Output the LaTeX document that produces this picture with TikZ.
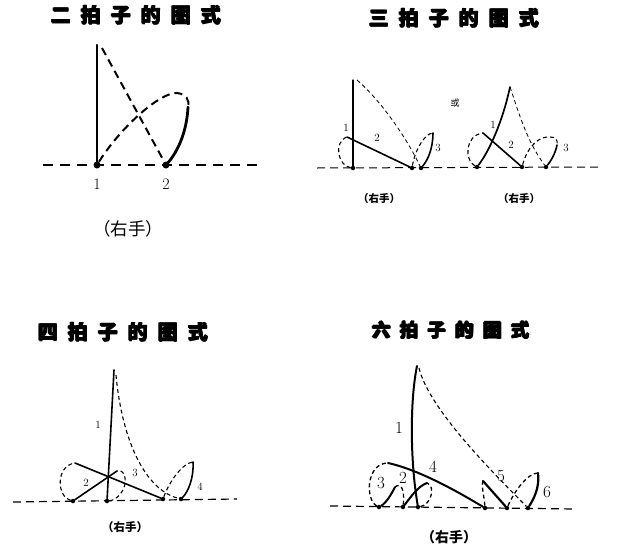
\documentclass[tikz,border=0pt]{standalone}
\usepackage{fontspec}
\newfontfamily\cjk{Noto Sans CJK SC}
\usetikzlibrary{positioning}
\tikzset{
  beat/.style={circle, fill, inner sep=0pt, minimum size=#1},
  beat/.default=4.5pt,
  groundline/.style={dash pattern=on 8pt off 5pt, line width=1pt},
  hit/.style={line width=1.6pt, line cap=round},
  swing/.style={dash pattern=on 4pt off 3pt, line width=1.1pt},
  guide/.style={dash pattern=on 4pt off 3pt, line width=0.8pt},
  num/.style={font=\fontsize{11}{11}\selectfont, inner sep=0pt},
  hand/.style={font=\cjk\bfseries\fontsize{11}{11}\selectfont, inner sep=0pt},
  ttl/.style={font=\cjk\bfseries\fontsize{20}{20}\selectfont, inner sep=0pt}
}
\newcommand{\gp}{\hspace{0.5em}}
% heavy title: the bold text laid over itself a little shifted
\newcommand{\heavytitle}[4][]{%
  \foreach \dx/\dy in {-0.7/0, 0.7/0, 0/-0.6, 0/0.6}
    \node[ttl, #1, xshift=\dx pt, yshift=\dy pt] at (#3) {#4};
  \node[ttl, #1] (#2) at (#3) {#4};}

\begin{document}
\begin{tikzpicture}[x=1pt, y=-1pt]
  \useasboundingbox (0,0) rectangle (629,554);

  % two beats
  \heavytitle{ttwo}{136,15}{二\gp 拍\gp 子\gp 的\gp 图\gp 式}
  \coordinate (g1l) at (43,165);
  \coordinate (g1r) at (257,165);
  \draw[groundline, line width=2pt, dash pattern=on 10pt off 7pt] (g1l) -- (g1r);
  \node[beat=7pt] (a1) at (97,165) {};
  \node[beat=7pt] (a2) at (166,165) {};
  \coordinate (atop) at (97,45);
  \coordinate (aret) at (102,48);
  \draw[hit, line width=2.2pt] (a1.center) -- (atop);
  \draw[swing, line width=2pt, dash pattern=on 8pt off 5pt] (aret) -- (a2);
  \draw[swing, line width=2pt, dash pattern=on 8pt off 5pt] (a1) .. controls (120,128) and (160,92) .. (177,93)
    .. controls (186,94) and (190,100) .. (188,107) coordinate (aturn);
  \draw[hit, line width=2.8pt] (aturn) .. controls (187,128) and (180,150) .. (a2.center);
  \node[num, font=\fontsize{16}{16}\selectfont] (na1) at (97,184) {1};
  \node[num, font=\fontsize{16}{16}\selectfont] (na2) at (166,184) {2};
  \node[hand, font=\cjk\fontsize{17.5}{17.5}\selectfont] (ha) at (128,229) {（右手）};

  % three beats
  \heavytitle{tthree}{454,18}{三\gp 拍\gp 子\gp 的\gp 图\gp 式}
  \coordinate (g2l) at (317,168);
  \coordinate (g2r) at (598,167);
  \draw[groundline] (g2l) -- (g2r);
  \node[beat] (b1) at (353,168) {};
  \node[beat] (b2) at (412,168) {};
  \node[beat] (b3) at (421,168) {};
  \coordinate (btop) at (353,80);
  \coordinate (bret) at (357,80);
  \draw[hit, line width=1.3pt] (b1.center) -- (btop);
  \draw[guide] (bret) .. controls (380,100) and (405,135) .. (b3);
  \draw[swing] (b1) .. controls (338,166) and (333,142) .. (347,137) coordinate (bturn);
  \draw[hit] (bturn) -- (b2);
  \draw[swing] (b2) .. controls (415,150) and (425,133) .. (433,133) coordinate (bloop);
  \draw[hit] (bloop) .. controls (433,148) and (428,160) .. (b3);
  \node[num] (nb1) at (346,128) {1};
  \node[num] (nb2) at (377,138) {2};
  \node[num] (nb3) at (438,148) {3};
  \node[font=\cjk\fontsize{9}{9}\selectfont, inner sep=0pt] (alt) at (455,103) {或};
  \node[beat] (c1) at (477,167) {};
  \node[beat] (c2) at (522,167) {};
  \node[beat] (c3) at (546,167) {};
  \coordinate (ctop) at (510,87);
  \draw[hit, line width=1.7pt] (c1) .. controls (490,150) and (503,120) .. (ctop);
  \draw[guide] (ctop) .. controls (518,110) and (526,140) .. (c3);
  \draw[swing] (c1) .. controls (464,160) and (465,135) .. (483,133) coordinate (cturn);
  \draw[hit] (cturn) -- (c2);
  \draw[swing] (c2) .. controls (528,145) and (540,136) .. (550,137)
    .. controls (556,137) and (558,140) .. (557,145) coordinate (cloop);
  \draw[hit] (cloop) .. controls (555,155) and (550,162) .. (c3);
  \node[num] (nc1) at (493,125) {1};
  \node[num] (nc2) at (511,145) {2};
  \node[num] (nc3) at (566,148) {3};
  \node[hand, font=\cjk\bfseries\fontsize{10.5}{10.5}\selectfont] (hb) at (379,199) {（右手）};
  \node[hand, font=\cjk\bfseries\fontsize{10.5}{10.5}\selectfont] (hc) at (519,199) {（右手）};

  % four beats
  \heavytitle{tfour}{123,332}{四\gp 拍\gp 子\gp 的\gp 图\gp 式}
  \coordinate (g3l) at (13,502);
  \coordinate (g3r) at (237,499);
  \draw[groundline, line width=1.2pt] (g3l) -- (g3r);
  \node[beat] (d1) at (107,501) {};
  \node[beat] (d2) at (73,501) {};
  \node[beat] (d3) at (163,499) {};
  \node[beat] (d4) at (181,499) {};
  \coordinate (dtop) at (114,370);
  \coordinate (dret) at (116,375);
  \draw[hit] (d1.center) -- (dtop);
  \draw[swing] (dret) .. controls (122,440) and (145,490) .. (d4);
  \draw[swing] (d1) .. controls (118,500) and (127,488) .. (125,478)
    .. controls (124,471) and (120,470) .. (117,471) coordinate (dturn);
  \draw[hit] (dturn) -- (d2);
  \draw[swing] (d2) .. controls (57,497) and (55,466) .. (75,463) coordinate (dloop);
  \draw[hit] (dloop) -- (d3);
  \draw[swing] (d3) .. controls (170,480) and (183,463) .. (193,462) coordinate (dhook);
  \draw[hit] (dhook) .. controls (194,478) and (188,492) .. (d4);
  \node[num] (nd1) at (98,425) {1};
  \node[num] (nd2) at (86,483) {2};
  \node[num] (nd3) at (135,473) {3};
  \node[num] (nd4) at (200,487) {4};
  \node[hand, font=\cjk\bfseries\fontsize{11.5}{11.5}\selectfont] (hd) at (125,527) {（右手）};

  % six beats
  \heavytitle[font=\cjk\bfseries\fontsize{18.5}{18.5}\selectfont]{tsix}{451,330}{六\gp 拍\gp 子\gp 的\gp 图\gp 式}
  \coordinate (g4l) at (330,506);
  \coordinate (g4r) at (575,509);
  \draw[groundline, line width=1.2pt] (g4l) -- (g4r);
  \node[beat] (e1) at (418,507) {};
  \node[beat] (e2) at (403,507) {};
  \node[beat] (e3) at (379,507) {};
  \node[beat] (e4) at (485,508) {};
  \node[beat] (e5) at (507,508) {};
  \node[beat] (e6) at (528,508) {};
  \coordinate (etop) at (417,366);
  \coordinate (eret) at (419,368);
  \draw[hit, line width=2pt] (e1) .. controls (410,460) and (410,400) .. (etop);
  \draw[guide, line width=1.1pt] (eret) .. controls (428,405) and (480,460) .. (e6);
  \draw[swing, line width=1.3pt] (e1) .. controls (431,505) and (436,486) .. (427,483) coordinate (e1turn);
  \draw[hit, line width=2pt] (e1turn) .. controls (418,486) and (410,498) .. (e2);
  \draw[swing, line width=1.3pt] (e2) .. controls (405,490) and (401,482) .. (395,487) coordinate (e2turn);
  \draw[hit, line width=2pt] (e2turn) .. controls (391,495) and (386,503) .. (e3);
  \draw[swing, line width=1.3pt] (e3) .. controls (365,500) and (366,463) .. (388,463) coordinate (e3turn);
  \draw[hit, line width=2pt] (e3turn) .. controls (420,470) and (460,493) .. (e4);
  \draw[swing, line width=1.3pt] (e4) .. controls (484,495) and (481,485) .. (483,481) coordinate (e4turn);
  \draw[hit, line width=2.2pt] (e4turn) -- (e5);
  \draw[swing, line width=1.3pt] (e5) .. controls (515,490) and (528,473) .. (538,473) coordinate (e5turn);
  \draw[hit, line width=2.2pt] (e5turn) .. controls (540,488) and (533,500) .. (e6);
  \node[num, font=\fontsize{17}{17}\selectfont] (ne1) at (399,428) {1};
  \node[num, font=\fontsize{17}{17}\selectfont] (ne2) at (403,478) {2};
  \node[num, font=\fontsize{17}{17}\selectfont] (ne3) at (381,483) {3};
  \node[num, font=\fontsize{17}{17}\selectfont] (ne4) at (433,467) {4};
  \node[num, font=\fontsize{17}{17}\selectfont] (ne5) at (501,476) {5};
  \node[num, font=\fontsize{17}{17}\selectfont] (ne6) at (547,492) {6};
  \node[hand, font=\cjk\bfseries\fontsize{14}{14}\selectfont] (he) at (449,537) {（右手）};
\end{tikzpicture}
\end{document}
